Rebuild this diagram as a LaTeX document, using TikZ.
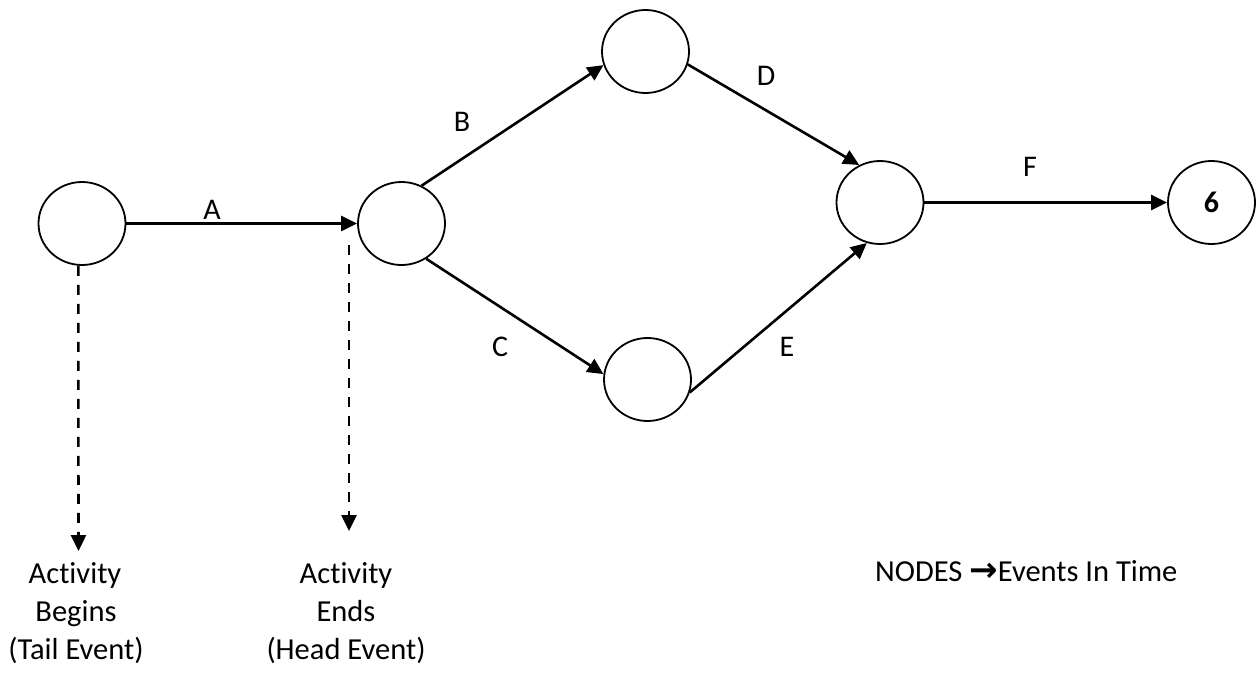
\documentclass[tikz,border=0pt]{standalone}
\usepackage{fontspec}
\setmainfont{Carlito}[Ligatures=NoCommon]
\usetikzlibrary{arrows.meta,shapes.geometric}
\begin{document}
\begin{tikzpicture}[x=1pt,y=-1pt,
  ev/.style={draw,ellipse,line width=1.8pt,minimum width=87pt,minimum height=83pt,inner sep=0pt,font=\fontsize{30}{36}\selectfont\bfseries},
  act/.style={line width=2.6pt,-{Triangle[length=16pt,width=15pt]}},
  dsh/.style={line width=2.6pt,dash pattern=on 10pt off 9pt,-{Triangle[length=16pt,width=15pt]}},
  lbl/.style={font=\fontsize{30}{36}\selectfont,inner sep=0pt},
  txt/.style={font=\fontsize{30.5}{36}\selectfont,inner sep=0pt,anchor=base}]
\useasboundingbox (0,0) rectangle (1256,677);
\node[ev] (n1) at (82,223.5) {};
\node[ev] (n2) at (401.5,223.5) {};
\node[ev] (n3) at (645.5,51.5) {};
\node[ev] (n5) at (647.5,379.5) {};
\node[ev] (n4) at (880,202.5) {};
\node[ev] (n6) at (1211.5,202.5) {6};
\draw[act] (n1.east) -- (n2.west);
\draw[act] (n2.62) -- (n3.198);
\draw[act] (n3.-17) -- (n4.119);
\draw[act] (n2.-55) -- (n5.173);
\draw[act] (n5.-17) -- (n4.252);
\draw[act] (n4.east) -- (n6.west);
\node[lbl] (la) at (212,210) {A};
\node[lbl] (lb) at (462,122) {B};
\node[lbl] (lc) at (500,347) {C};
\node[lbl] (ld) at (766,76) {D};
\node[lbl] (le) at (787,347) {E};
\node[lbl] (lf) at (1030,166.5) {F};
\coordinate (t1) at (78.5,551);
\coordinate (h0) at (349,245);
\coordinate (h1) at (349,531);
\draw[dsh] (n1.265) -- (t1);
\draw[dsh] (h0) -- (h1);
\node[txt] (b1) at (75,583) {Activity};
\node[txt] (b2) at (76,621) {Begins};
\node[txt] (b3) at (76,659) {(Tail Event)};
\node[txt] (e1) at (346,583) {Activity};
\node[txt] (e2) at (346,621) {Ends};
\node[txt] (e3) at (346,659) {(Head Event)};
\node[txt,anchor=base west] (nd) at (875,581) {NODES {\fontspec{DejaVu Sans}\fontsize{34}{36}\selectfont\bfseries →}Events In Time};
\end{tikzpicture}
\end{document}
